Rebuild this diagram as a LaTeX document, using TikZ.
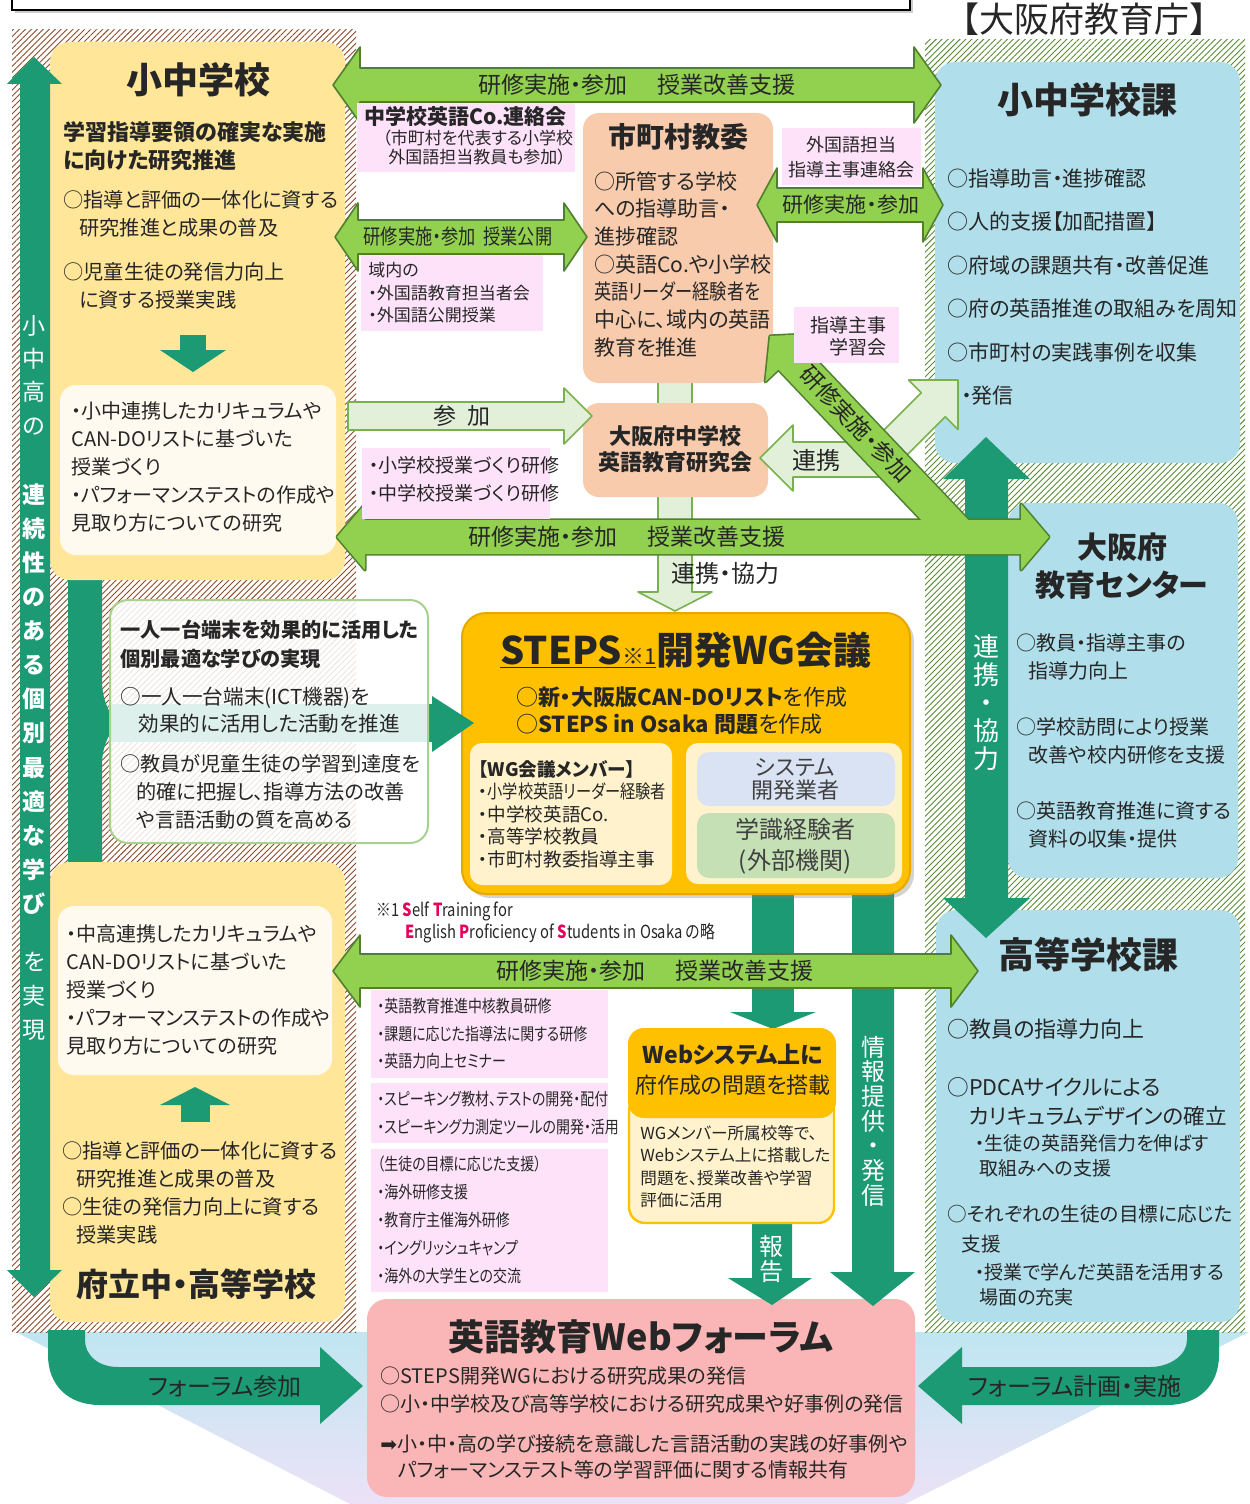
\documentclass[tikz,border=0pt]{standalone}
\usepackage{fontspec}
\setmainfont[RawFeature=+palt]{Noto Sans CJK JP}
\newfontfamily\cnd[RawFeature=+palt,FakeStretch=0.82]{Noto Sans CJK JP}
\newfontfamily\fullw{Noto Sans CJK JP}
\newfontfamily\symfont{DejaVu Sans}
\usetikzlibrary{patterns.meta,shadows}

\definecolor{ink}{HTML}{262626}
\definecolor{grayT}{HTML}{404040}
\definecolor{yel}{HTML}{FFE699}
\definecolor{creamW}{HTML}{FFFAF0}
\definecolor{tealG}{HTML}{1B9A73}
\definecolor{grn}{HTML}{92D050}
\definecolor{grnB}{HTML}{4F7F2F}
\definecolor{pale}{HTML}{E2F0D9}
\definecolor{paleB}{HTML}{78B14E}
\definecolor{salmon}{HTML}{F8CBAD}
\definecolor{pinkL}{HTML}{FDE2F9}
\definecolor{sky}{HTML}{B0DEEA}
\definecolor{orng}{HTML}{FFC000}
\definecolor{orngB}{HTML}{E5A800}
\definecolor{creamY}{HTML}{FFF2CC}
\definecolor{forum}{HTML}{FAB6B6}
\definecolor{lav}{HTML}{DAE3F3}
\definecolor{mint}{HTML}{C5E0B4}
\definecolor{hatchB}{HTML}{8A4B2A}
\definecolor{hatchG}{HTML}{5B8C35}
\definecolor{redS}{HTML}{E6005C}
\definecolor{bgTop}{HTML}{BFE6F1}
\definecolor{bgBot}{HTML}{ECE2F7}
\definecolor{ictB}{HTML}{A9D18E}

\newcommand{\fsz}[2]{\fontsize{#1}{#2}\selectfont}
\newcommand{\hdbl}[7]{\draw[#1] (#3,#2) -- ({#3+#7},{#2-#6}) -- ({#3+#7},{#2-#5}) -- ({#4-#7},{#2-#5}) -- ({#4-#7},{#2-#6}) -- (#4,#2) -- ({#4-#7},{#2+#6}) -- ({#4-#7},{#2+#5}) -- ({#3+#7},{#2+#5}) -- ({#3+#7},{#2+#6}) -- cycle;}
\newcommand{\midpath}{(337,537) -- (365,504) -- (365,520) -- (1021,520) -- (1021,504) -- (1049,537) -- (1021,570) -- (1021,554) -- (365,554) -- (365,570) -- cycle}
\newcommand{\diagpath}{(770,336) -- (816.1,333.7) -- (803.0,346.1) -- (977.8,530) -- (930.9,530) -- (778.4,369.5) -- (765.3,381.9) -- cycle}

\tikzset{
  txt/.style={inner sep=0pt, text=ink, align=left, anchor=north west},
  ctr/.style={inner sep=0pt, text=ink, align=center},
  grnarrow/.style={fill=grn, draw=grnB, line width=0.8pt, line join=round},
  palearrow/.style={fill=pale, draw=paleB, line width=0.8pt, line join=round},
  hatch/.style={pattern={Lines[angle=45,distance=2.1pt,line width=0.45pt]}},
}

\begin{document}
\begin{tikzpicture}[x=0.5pt,y=-0.5pt]
\useasboundingbox (0,0) rectangle (1249,1504);
\shade[top color=bgTop, bottom color=bgBot] (16,1332) -- (1249,1332) -- (905,1504) -- (350,1504) -- cycle;
\fill[white] (12,30) rectangle (356,1332);
\fill[hatch, pattern color=hatchB] (12,30) rectangle (356,1332);
\fill[white] (925,40) rectangle (1245,1332);
\fill[hatch, pattern color=hatchG] (925,40) rectangle (1245,1332);
\draw[line width=1.2pt, fill=white, drop shadow={opacity=0.4, shadow xshift=1.5pt, shadow yshift=-1.5pt}] (12,-30) rectangle (910,10);
\node[ctr, font={\fullw\fsz{17.5}{19}}] (kyoikucho) at (1084,19) {【大阪府教育庁】};

\fill[tealG] (68,578) -- (102,578) -- (102,680) .. controls (102,705) and (112,712) .. (114,723) .. controls (112,734) and (102,741) .. (102,766) -- (102,864) -- (68,864) -- cycle;

\fill[yel, rounded corners=10pt] (50,42) rectangle (345,580);
\node[ctr, font={\bfseries\fsz{18}{20}}] (kochu) at (198,80) {小中学校};
\node[txt, font={\bfseries\fsz{11}{14}}] (kochuAim) at (63,121) {学習指導要領の確実な実施\\に向けた研究推進};
\node[txt, font={\fsz{10.1}{14}}] (kochuA) at (63,190) {○指導と評価の一体化に資する\\\hspace*{8pt}研究推進と成果の普及};
\node[txt, font={\fsz{10.1}{14}}] (kochuB) at (63,262) {○児童生徒の発信力向上\\\hspace*{8pt}に資する授業実践};
\fill[tealG] (180,335) rectangle (206,351);
\fill[tealG] (160,350) -- (226,350) -- (193,372) -- cycle;
\fill[creamW, rounded corners=8pt] (60,385) rectangle (336,555);
\node[txt, font={\fsz{10}{14}}] (kochuBox) at (71,401) {・小中連携したカリキュラムや\\CAN-DOリストに基づいた\\授業づくり\\・パフォーマンステストの作成や\\見取り方についての研究};

\fill[yel, rounded corners=10pt] (50,862) rectangle (345,1322);
\fill[creamW, rounded corners=8pt] (58,906) rectangle (332,1075);
\node[txt, font={\fsz{10}{14}}] (chukoBox) at (66,924) {・中高連携したカリキュラムや\\CAN-DOリストに基づいた\\授業づくり\\・パフォーマンステストの作成や\\見取り方についての研究};
\fill[tealG] (195,1087) -- (230,1105) -- (160,1105) -- cycle;
\fill[tealG] (181,1104) rectangle (210,1122);
\node[txt, font={\fsz{10.1}{14}}] (chukoA) at (62,1141) {○指導と評価の一体化に資する\\\hspace*{7pt}研究推進と成果の普及\\○生徒の発信力向上に資する\\\hspace*{7pt}授業実践};
\node[ctr, font={\bfseries\fsz{16}{18}}] (chuko) at (196,1284) {府立中・高等学校};

\fill[tealG] (34,57) -- (62,84) -- (50,84) -- (50,1270) -- (62,1270) -- (34,1297) -- (7,1270) -- (20,1270) -- (20,84) -- (7,84) -- cycle;
\node[ctr, text=white, font={\fsz{11.5}{16.7}}] (vertA) at (34,375) {小\\中\\高\\の};
\node[ctr, text=white, font={\bfseries\fsz{11.5}{17.05}}] (vertB) at (34,699) {連\\続\\性\\の\\あ\\る\\個\\別\\最\\適\\な\\学\\び};
\node[ctr, text=white, font={\fsz{11.5}{17}}] (vertC) at (34,996) {を\\実\\現};

\fill[sky, rounded corners=10pt] (935,62) rectangle (1240,463);
\node[ctr, font={\bfseries\fsz{18}{20}}] (shochuka) at (1087,100) {小中学校課};
\node[txt, font={\fsz{10.5}{21.75}}] (shochukaList) at (947,168) {○指導助言・進捗確認\\○人的支援【加配措置】\\○府域の課題共有・改善促進\\○府の英語推進の取組みを周知\\○市町村の実践事例を収集\\\hspace*{7pt}・発信};

\fill[sky, rounded corners=10pt] (1008,503) rectangle (1238,878);
\node[ctr, font={\bfseries\fsz{15}{19}}] (center) at (1122,566) {大阪府\\教育センター};
\node[txt, font={\fsz{10}{14}}] (centerA) at (1016,633) {○教員・指導主事の\\\hspace*{6pt}指導力向上};
\node[txt, font={\fsz{10}{14}}] (centerB) at (1016,717) {○学校訪問により授業\\\hspace*{6pt}改善や校内研修を支援};
\node[txt, font={\fsz{10}{14}}] (centerC) at (1016,801) {○英語教育推進に資する\\\hspace*{6pt}資料の収集・提供};

\fill[sky, rounded corners=10pt] (936,910) rectangle (1240,1322);
\node[ctr, font={\bfseries\fsz{18}{20}}] (kokoka) at (1088,955) {高等学校課};
\node[txt, font={\fsz{11}{14}}] (kokokaA) at (947,1019) {○教員の指導力向上};
\node[txt, font={\fsz{10.8}{14.5}}] (kokokaB) at (947,1077) {○PDCAサイクルによる\\\hspace*{11pt}カリキュラムデザインの確立};
\node[txt, font={\fsz{9.5}{12.5}}] (kokokaBsub) at (975,1134) {・生徒の英語発信力を伸ばす\\\hspace*{2pt}取組みへの支援};
\node[txt, font={\fsz{9.8}{15}}] (kokokaC) at (947,1205) {○それぞれの生徒の目標に応じた\\\hspace*{7pt}支援};
\node[txt, font={\fsz{9.5}{12.5}}] (kokokaCsub) at (975,1263) {・授業で学んだ英語を活用する\\\hspace*{2pt}場面の充実};

\fill[tealG] (986,437) -- (1030,479) -- (1008,479) -- (1008,898) -- (1030,898) -- (986,938) -- (943,898) -- (965,898) -- (965,479) -- (943,479) -- cycle;
\node[ctr, text=white, font={\fsz{13}{14}}] (renkeiVert) at (986,703) {連\\携\\・\\協\\力};

\draw[palearrow] (658,370) -- (692,370) -- (692,592) -- (712,592) -- (675,611) -- (638,592) -- (658,592) -- cycle;
\node[ctr, font={\fsz{12}{14}}] (renkeiKyoryoku) at (725,573) {連携・協力};
\fill[salmon, rounded corners=8pt] (583,113) rectangle (773,383);
\node[ctr, font={\bfseries\fsz{14}{16}}] (shicho) at (678,137) {市町村教委};
\node[txt, font={\fsz{10.5}{13.85}}] (shichoList) at (594,171) {○所管する学校\\への指導助言・\\進捗確認\\○英語Co.や小学校\\{\cnd 英語リーダー経験者を}\\中心に、域内の英語\\教育を推進};
\fill[salmon, rounded corners=8pt] (583,403) rectangle (768,497);
\node[ctr, font={\bfseries\fsz{11}{13}}] (kenkyukai) at (675,449) {大阪府中学校\\英語教育研究会};

\fill[forum, rounded corners=10pt] (367,1299) rectangle (915,1497);
\node[ctr, font={\bfseries\fsz{18}{20}}] (forumTitle) at (641,1337) {英語教育Webフォーラム};
\node[txt, font={\fsz{10}{14}}] (forumA) at (380,1366) {○STEPS開発WGにおける研究成果の発信\\○小・中学校及び高等学校における研究成果や好事例の発信};
\node[txt, font={\fsz{10}{13}}] (forumB) at (380,1434) {{\symfont ➡}小・中・高の学び接続を意識した言語活動の実践の好事例や\\\hspace*{9pt}パフォーマンステスト等の学習評価に関する情報共有};

\fill[tealG] (752,890) rectangle (794,1012);
\fill[tealG] (730,1012) -- (816,1012) -- (773,1029) -- cycle;
\fill[tealG] (852,890) -- (894,890) -- (894,1272) -- (915,1272) -- (873,1306) -- (830,1272) -- (852,1272) -- cycle;
\fill[tealG] (752,1222) -- (792,1222) -- (792,1278) -- (812,1278) -- (772,1305) -- (728,1278) -- (752,1278) -- cycle;
\node[ctr, text=white, font={\fsz{12}{12.35}}] (johoText) at (873,1121) {情\\報\\提\\供\\・\\発\\信};
\node[ctr, text=white, font={\fsz{12}{11}}] (hokokuText) at (771,1259) {報\\告};

\draw[fill=orng, draw=orngB, line width=1pt, rounded corners=12pt, drop shadow={opacity=0.35, shadow xshift=2pt, shadow yshift=-2pt}] (462,613) rectangle (910,894);
\node[ctr, font={\bfseries\fsz{19}{21}}] (steps) at (686,650) {\underline{STEPS{\mdseries\fsz{11}{11}※1}}開発WG会議};
\node[txt, font={\fsz{11}{13.5}}] (stepsGoal) at (516,686) {○\textbf{新・大阪版CAN-DOリスト}を作成\\○\textbf{STEPS in Osaka 問題}を作成};
\fill[creamY, rounded corners=6pt] (470,743) rectangle (672,885);
\node[txt, font={\fsz{9.3}{11.25}}] (members) at (478,760) {\textbf{【WG会議メンバー】}\\・{\cnd 小学校英語リーダー経験者}\\・中学校英語Co.\\・高等学校教員\\・市町村教委指導主事};
\fill[creamY, rounded corners=6pt] (686,743) rectangle (902,884);
\fill[lav, rounded corners=6pt] (697,752) rectangle (895,806);
\node[ctr, text=grayT, font={\fsz{11}{11.5}}] (vendor) at (795,779) {システム\\開発業者};
\fill[mint, rounded corners=6pt] (697,813) rectangle (895,878);
\node[ctr, text=grayT, font={\fsz{12}{15.5}}] (experts) at (795,846) {学識経験者\\(外部機関)};

\fill[tealG] (110,704) rectangle (432,742);
\fill[tealG] (432,696) -- (474,723) -- (432,752) -- cycle;
\draw[draw=ictB, line width=1pt, fill=white, fill opacity=0.86, rounded corners=9pt] (110,600) rectangle (428,843);
\node[txt, font={\bfseries\fsz{10.1}{14.5}}] (ictAim) at (120,620) {一人一台端末を効果的に活用した\\個別最適な学びの実現};
\node[txt, font={\fsz{10.3}{13.5}}] (ictA) at (120,687) {○一人一台端末(ICT機器)を\\\hspace*{9pt}効果的に活用した活動を推進};
\node[txt, font={\fsz{10.1}{14}}] (ictB) at (120,754) {○教員が児童生徒の学習到達度を\\\hspace*{8pt}的確に把握し、指導方法の改善\\\hspace*{8pt}や言語活動の質を高める};

\draw[fill=creamY, draw=orng, line width=1.2pt, rounded corners=8pt] (629,1095) rectangle (834,1223);
\fill[orng, rounded corners=8pt] (628,1028) rectangle (836,1118);
\node[ctr, font={\bfseries\fsz{11.5}{13}}] (webTitle) at (733,1055) {Webシステム上に};
\node[ctr, font={\fsz{11}{13}}] (webSub) at (733,1085) {府作成の問題を搭載};
\node[txt, font={\fsz{8.3}{11.15}}] (webNote) at (640,1125) {WGメンバー所属校等で、\\Webシステム上に搭載した\\問題を、授業改善や学習\\評価に活用};

\hdbl{grnarrow}{85}{333}{941}{17}{38}{27}
\node[ctr, font={\fsz{11.5}{13}}] (topLabel) at (637,85) {研修実施・参加\hspace{15pt}授業改善支援};
\hdbl{grnarrow}{237}{335}{587}{17}{34}{23}
\node[ctr, font={\cnd\fsz{10.5}{12}}] (kokaiLabel) at (458,237) {研修実施・参加\hspace{4pt}授業公開};
\hdbl{grnarrow}{205}{757}{943}{17}{37}{20}
\node[ctr, font={\fsz{10.5}{12}}] (shichoLabel) at (851,205) {研修実施・参加};

\draw[palearrow] (348,402) -- (564,402) -- (564,388) -- (592,416) -- (564,444) -- (564,430) -- (348,430) -- cycle;
\node[ctr, font={\fsz{11.5}{13}}] (sankaLabel) at (462,416) {参\hspace{6pt}加};
\draw[palearrow] (760,458) -- (793,425) -- (793,442) -- (872,442) -- (921.3,392.7) -- (908.6,380) -- (958,380) -- (958,429.4) -- (945.3,416.7) -- (885,477) -- (793,477) -- (793,491) -- cycle;
\node[ctr, font={\fsz{12}{14}}] (renkeiLabel) at (816,460) {連携};

\draw[grnarrow, line width=1.6pt] \midpath;
\draw[grnarrow, line width=1.6pt] \diagpath;
\fill[grn] \midpath;
\fill[grn] \diagpath;
\node[ctr, font={\fsz{11.5}{13}}] (midLabel) at (627,537) {研修実施・参加\hspace{15pt}授業改善支援};
\node[ctr, rotate=-46.5, font={\fsz{11.5}{13}}] (diagLabel) at (856,424) {研修実施・参加};

\hdbl{grnarrow}{971}{333}{978}{17}{36}{27}
\node[ctr, font={\fsz{11.5}{13}}] (botLabel) at (655,971) {研修実施・参加\hspace{15pt}授業改善支援};

\fill[pinkL] (357,103) rectangle (575,172);
\node[txt, font={\bfseries\fsz{10.5}{12}}] (coTitle) at (364,106) {中学校英語Co.連絡会};
\node[txt, font={\fsz{8.5}{9.5}}] (coNote) at (382,130) {（市町村を代表する小学校\\\hspace*{3pt}外国語担当教員も参加）};
\fill[pinkL] (361,255) rectangle (543,331);
\node[txt, font={\fsz{8.5}{11.25}}] (ikinai) at (368,262) {域内の\\・外国語教育担当者会\\・外国語公開授業};
\fill[pinkL] (782,128) rectangle (921,185);
\node[ctr, font={\fsz{9}{12.5}}] (gaikokugo) at (851,157) {外国語担当\\指導主事連絡会};
\fill[pinkL] (794,307) rectangle (899,363);
\node[inner sep=0pt, text=ink, align=right, anchor=east, font={\fsz{9.5}{11}}] (gakushukai) at (887,336) {指導主事\\学習会};
\fill[pinkL] (362,448) rectangle (550,519);
\node[txt, font={\fsz{9.5}{14}}] (jugyoKenshu) at (369,456) {・小学校授業づくり研修\\・中学校授業づくり研修};
\fill[pinkL] (371,990) rectangle (608,1078);
\node[txt, font={\cnd\fsz{8.5}{13.75}}] (kenshuA) at (377,998) {・英語教育推進中核教員研修\\・課題に応じた指導法に関する研修\\・英語力向上セミナー};
\fill[pinkL] (371,1083) rectangle (608,1143);
\node[txt, font={\cnd\fsz{8.5}{14}}] (kenshuB) at (377,1091) {・スピーキング教材、テストの開発・配付\\・スピーキング力測定ツールの開発・活用};
\fill[pinkL] (371,1149) rectangle (608,1292);
\node[txt, font={\cnd\fsz{8.5}{13.9}}] (kenshuC) at (377,1156) {（生徒の目標に応じた支援）\\・海外研修支援\\・教育庁主催海外研修\\・イングリッシュキャンプ\\・海外の大学生との交流};

\node[anchor=west, inner sep=0pt, text=ink, font={\cnd\fsz{9}{10}}] (noteA) at (376,911) {※1 \textbf{\color{redS}S}elf \textbf{\color{redS}T}raining for};
\node[anchor=west, inner sep=0pt, text=ink, font={\cnd\fsz{9}{10}}] (noteB) at (405,933) {\textbf{\color{redS}E}nglish \textbf{\color{redS}P}roficiency of \textbf{\color{redS}S}tudents in Osaka の略};

\fill[tealG] (48,1330) -- (48,1355) .. controls (48,1385) and (68,1405) .. (100,1405) -- (320,1405) -- (320,1424) -- (363,1386) -- (320,1347) -- (320,1367) -- (118,1367) .. controls (98,1367) and (85,1355) .. (85,1340) -- (85,1330) -- cycle;
\node[ctr, font={\fsz{12}{14}}] (forumJoin) at (225,1386) {フォーラム参加};
\fill[tealG] (1219,1330) -- (1219,1355) .. controls (1219,1385) and (1199,1405) .. (1167,1405) -- (962,1405) -- (962,1424) -- (918,1386) -- (962,1347) -- (962,1367) -- (1150,1367) .. controls (1170,1367) and (1187,1355) .. (1187,1340) -- (1187,1330) -- cycle;
\node[ctr, font={\fsz{12}{14}}] (forumPlan) at (1075,1386) {フォーラム計画・実施};
\end{tikzpicture}
\end{document}
